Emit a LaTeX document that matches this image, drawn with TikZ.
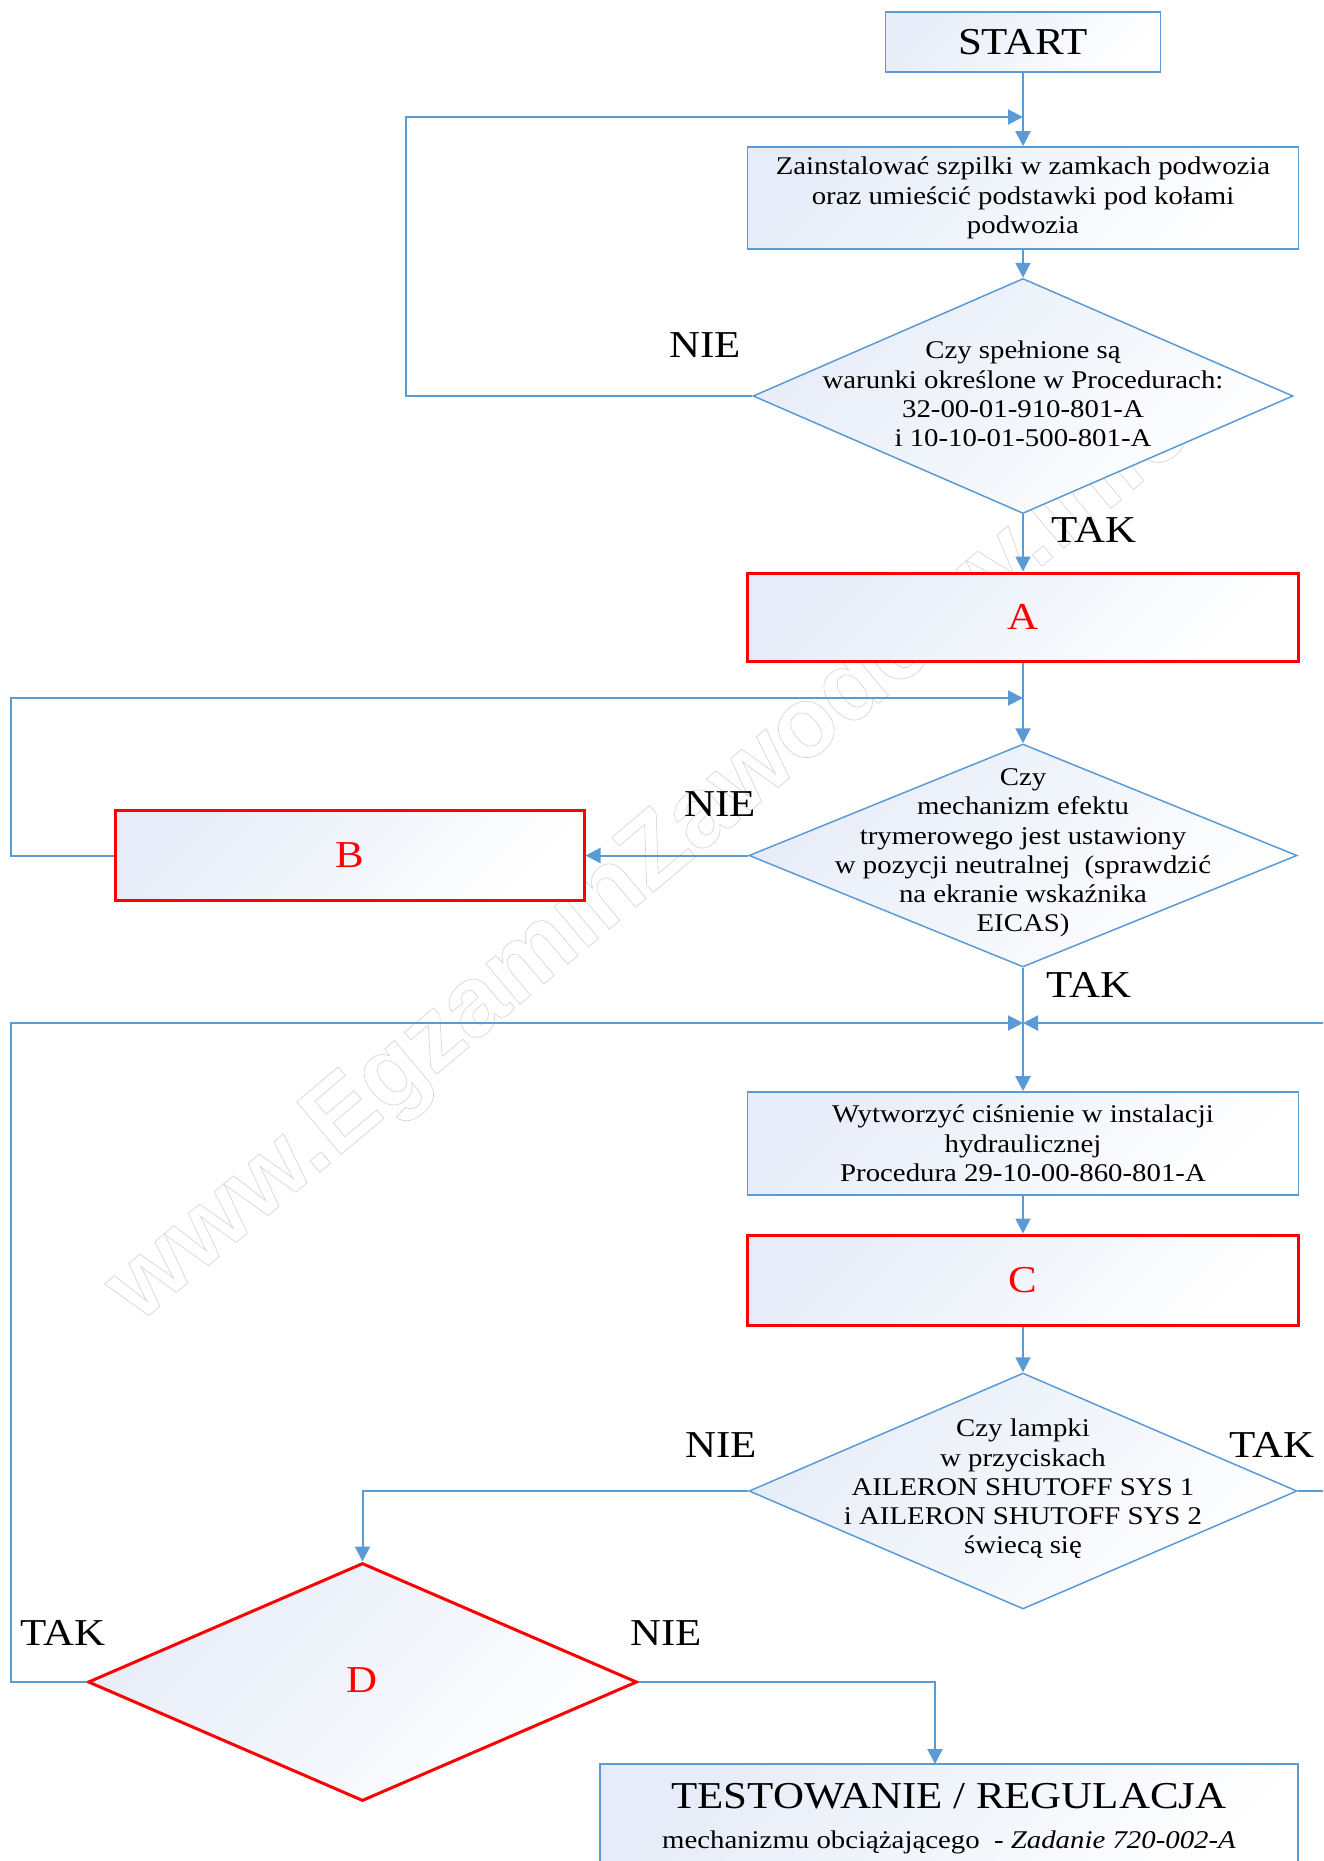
\documentclass[tikz,border=0pt]{standalone}
\usepackage{fontspec}
\setmainfont{Liberation Serif}[FakeStretch=1.13]
\newfontfamily\wmfnt{Liberation Sans Bold}
\usetikzlibrary{arrows.meta,shapes.geometric}
\definecolor{lnblue}{RGB}{91,155,213}
\definecolor{fillc}{RGB}{231,237,248}
\definecolor{wmgray}{RGB}{210,210,210}
\newcommand\bodyfnt{\fontsize{25.5}{29.3}\selectfont}
\newcommand\bigfnt{\fontsize{38}{42}\selectfont}
\tikzset{
  box/.style={rectangle, draw=lnblue, line width=1.6pt, top color=fillc, bottom color=white,
    middle color=white!45!fillc, shading angle=45, inner sep=0pt, align=center, font=\bodyfnt},
  redbox/.style={box, draw=red, line width=3pt, text=red, font=\bigfnt},
  dia/.style={diamond, draw=lnblue, line width=1.5pt, top color=fillc, bottom color=white,
    middle color=white!45!fillc, shading angle=45, inner sep=0pt},
  reddia/.style={dia, draw=red, line width=3pt},
  txt/.style={align=center, font=\bodyfnt, inner sep=0pt},
  lbl/.style={font=\bigfnt, inner sep=0pt},
  conn/.style={draw=lnblue, line width=2pt},
  arr/.style={conn, -{Triangle[length=15pt,width=15pt]}},
  wm/.style={font=\wmfnt\fontsize{100}{100}\selectfont, text=wmgray, inner sep=0pt}
}
\begin{document}
\begin{tikzpicture}[x=1pt,y=-1pt]
\useasboundingbox (0,0) rectangle (1323,1861);
\clip (0,0) rectangle (1323,1861);
\fill[white] (0,0) rectangle (1323,1861);
% watermark
\node[wm, rotate=40] (wmark) at (652,860) {\special{pdf:literal direct 1 Tr 0.6 w}www.EgzaminZawodowy.info\special{pdf:literal direct 0 Tr}};
% nodes
\node[box, minimum width=275, minimum height=60, font=\bigfnt] (start) at (1023,42) {START};
\node[box, minimum width=551, minimum height=102] (b1) at (1023,198) {Zainstalować szpilki w zamkach podwozia\\oraz umieścić podstawki pod kołami\\podwozia};
\node[dia, minimum width=540, minimum height=235] (d1) at (1023,396) {};
\node[txt] (d1t) at (1023,394) {Czy spełnione są\\warunki określone w Procedurach:\\32-00-01-910-801-A\\i 10-10-01-500-801-A};
\node[redbox, minimum width=551, minimum height=88] (a) at (1023,617) {A};
\node[dia, minimum width=548, minimum height=223] (d2) at (1023,855.5) {};
\node[txt] (d2t) at (1023,853) {Czy\\mechanizm efektu\\trymerowego jest ustawiony\\w pozycji neutralnej\ \ (sprawdzić\\na ekranie wskaźnika\\EICAS)};
\node[redbox, minimum width=469, minimum height=90] (b) at (349.5,855.5) {B};
\node[box, minimum width=551, minimum height=103] (w) at (1023,1143.5) {Wytworzyć ciśnienie w instalacji\\hydraulicznej\\Procedura 29-10-00-860-801-A};
\node[redbox, minimum width=551, minimum height=90] (c) at (1023,1280) {C};
\node[dia, minimum width=548, minimum height=236] (d3) at (1023,1491) {};
\node[txt] (d3t) at (1023,1489) {Czy lampki\\w przyciskach\\AILERON SHUTOFF SYS 1\\i AILERON SHUTOFF SYS 2\\świecą się};
\node[reddia, minimum width=549, minimum height=238] (d) at (362.5,1682) {};
\node[lbl, text=red] (dt) at (362.5,1680) {D};
\node[box, minimum width=698, minimum height=140] (t) at (949,1834) {};
\node[inner sep=0pt, anchor=base, font=\bigfnt] (t1) at (949,1808) {TESTOWANIE / REGULACJA};
\node[inner sep=0pt, anchor=base, font=\bodyfnt] (t2) at (949,1848) {mechanizmu obciążającego\ \ - \textit{Zadanie 720-002-A}};
% labels
\node[lbl] (nie1) at (705,345) {NIE};
\node[lbl] (tak1) at (1094,530) {TAK};
\node[lbl] (nie2) at (720,804) {NIE};
\node[lbl] (tak2) at (1089,985) {TAK};
\node[lbl] (nie3) at (721,1445) {NIE};
\node[lbl] (tak3) at (1272,1445) {TAK};
\node[lbl] (tak4) at (63,1633) {TAK};
\node[lbl] (nie4) at (666,1633) {NIE};
% junctions
\coordinate (j1) at (1023,117);
\coordinate (j2) at (1023,698);
\coordinate (j3) at (1023,1023);
\coordinate (tin) at (935,1764);
% connectors
\draw[arr] (start) -- (b1);
\draw[arr] (b1) -- (d1.north);
\draw[arr] (d1.south) -- (a);
\draw[arr] (a) -- (d2.north);
\draw[arr] (d2.south) -- (w);
\draw[arr] (w) -- (c);
\draw[arr] (c) -- (d3.north);
\draw[arr] (d1.west) -- ++(-346,0) |- (j1);
\draw[arr] (d2.west) -- (b.east);
\draw[arr] (b.west) -- ++(-103,0) |- (j2);
\draw[arr] (d.west) -- ++(-76,0) |- (j3);
\draw[arr] (d3.east) -- ++(60,0) |- (j3);
\draw[arr] (d3.west) -| (d.north);
\draw[arr] (d.east) -| (tin);
\end{tikzpicture}
\end{document}
